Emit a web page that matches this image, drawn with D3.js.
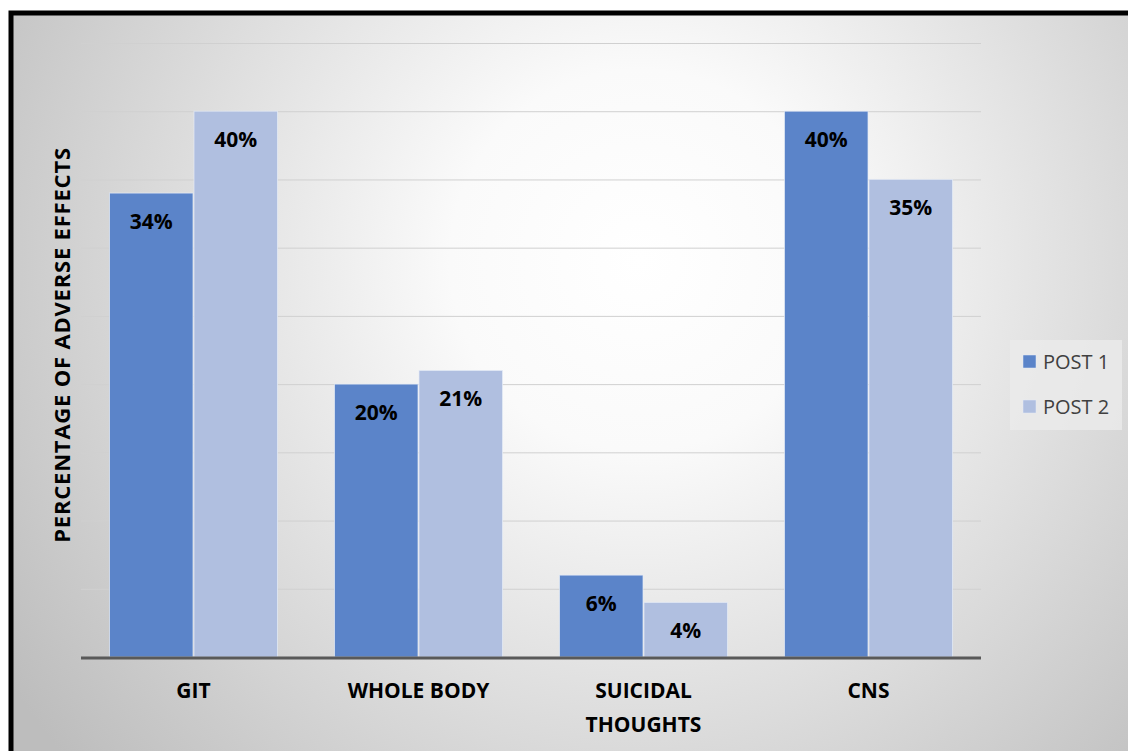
<!DOCTYPE html>
<meta charset="utf-8">
<title>Adverse effects</title>
<script src="https://d3js.org/d3.v7.min.js"></script>
<style>
    body { margin: 0; background: #fff; }
    text { font-family: 'Open Sans', sans-serif; }
    text.value { font-size: 21px; font-weight: bold; fill: #000; }
    text.cat { font-size: 21px; font-weight: bold; fill: #000; }
    text.ytitle { font-size: 22px; font-weight: bold; fill: #000; letter-spacing: 0.8px; }
    text.legend { font-size: 20px; fill: #404040; }
</style>
<div id="chart"></div>
<script>
    // data
    var categories = ["GIT", "WHOLE BODY", "SUICIDAL THOUGHTS", "CNS"];
    var catLines = [["GIT"], ["WHOLE BODY"], ["SUICIDAL", "THOUGHTS"], ["CNS"]];
    var seriesNames = ["POST 1", "POST 2"];
    var post1 = [34, 20, 6, 40];
    var post2 = [40, 21, 4, 35];
    var colors = ["#5b84c9", "#b0bfe0"];

    var W = 1128, H = 751;
    var plot = {left: 81, right: 981, top: 43, bottom: 657};

    var svg = d3.select("#chart").append("svg")
        .attr("width", W).attr("height", H);

    var defs = svg.append("defs");
    var grad = defs.append("radialGradient")
        .attr("id", "bg")
        .attr("gradientUnits", "userSpaceOnUse")
        .attr("cx", 640).attr("cy", 260).attr("r", 760);
    grad.append("stop").attr("offset", "0%").attr("stop-color", "#ffffff");
    grad.append("stop").attr("offset", "25%").attr("stop-color", "#fafafa");
    grad.append("stop").attr("offset", "100%").attr("stop-color", "#bdbdbd");

    // frame + background
    svg.append("rect")
        .attr("x", 11).attr("y", 13)
        .attr("width", W + 20).attr("height", H + 20)
        .attr("fill", "url(#bg)")
        .attr("stroke", "#000").attr("stroke-width", 5);

    var y = d3.scaleLinear().domain([0, 45]).range([plot.bottom, plot.top]);
    var x0 = d3.scaleBand().domain(categories).range([plot.left, plot.right]).paddingInner(0).paddingOuter(0);
    var x1 = d3.scaleBand().domain(seriesNames).range([0, 169]).padding(0);
    var groupOffset = (x0.bandwidth() - 169) / 2;

    // gridlines
    svg.append("g")
        .selectAll("line")
        .data(d3.range(5, 50, 5))
        .enter().append("line")
        .attr("x1", plot.left).attr("x2", plot.right)
        .attr("y1", function(d) { return y(d) + 0.5; })
        .attr("y2", function(d) { return y(d) + 0.5; })
        .attr("stroke", "#d0d0d0").attr("stroke-width", 1);

    var rows = categories.map(function(c, i) {
        return [{cat: c, s: seriesNames[0], v: post1[i], c: colors[0]},
                {cat: c, s: seriesNames[1], v: post2[i], c: colors[1]}];
    });
    var flat = [].concat.apply([], rows);

    svg.append("g").selectAll("rect")
        .data(flat)
        .enter().append("rect")
        .attr("x", function(d) { return x0(d.cat) + groupOffset + x1(d.s) + 0.5; })
        .attr("y", function(d) { return y(d.v); })
        .attr("width", x1.bandwidth() - 1)
        .attr("height", function(d) { return y(0) - y(d.v); })
        .attr("fill", function(d) { return d.c; })
        .attr("stroke", "#e6ecf6").attr("stroke-width", 1).attr("stroke-opacity", 0.7);

    svg.append("g").selectAll("text")
        .data(flat)
        .enter().append("text")
        .attr("class", "value")
        .attr("x", function(d) { return x0(d.cat) + groupOffset + x1(d.s) + x1.bandwidth() / 2; })
        .attr("y", function(d) { return y(d.v) + 36; })
        .attr("text-anchor", "middle")
        .text(function(d) { return d.v + "%"; });

    // baseline axis
    svg.append("line")
        .attr("x1", plot.left).attr("x2", plot.right)
        .attr("y1", y(0) + 1).attr("y2", y(0) + 1)
        .attr("stroke", "#595959").attr("stroke-width", 3);

    // category labels
    var cats = svg.append("g").selectAll("text")
        .data(categories)
        .enter().append("text")
        .attr("class", "cat")
        .attr("text-anchor", "middle")
        .attr("x", function(d) { return x0(d) + x0.bandwidth() / 2; })
        .attr("y", 698);
    cats.selectAll("tspan")
        .data(function(d, i) { return catLines[i]; })
        .enter().append("tspan")
        .attr("x", function() { return d3.select(this.parentNode).attr("x"); })
        .attr("dy", function(d, i) { return i === 0 ? 0 : 34; })
        .text(function(d) { return d; });

    // y title
    svg.append("text")
        .attr("class", "ytitle")
        .attr("transform", "translate(70,345) rotate(-90)")
        .attr("text-anchor", "middle")
        .text("PERCENTAGE OF ADVERSE EFFECTS");

    // legend
    var lg = svg.append("g");
    lg.append("rect")
        .attr("x", 1010).attr("y", 340).attr("width", 112).attr("height", 90)
        .attr("fill", "#ebebeb").attr("opacity", 0.8);
    var items = lg.selectAll("g.item")
        .data(seriesNames)
        .enter().append("g")
        .attr("transform", function(d, i) { return "translate(1023," + (355 + i * 45) + ")"; });
    items.append("rect")
        .attr("width", 13).attr("height", 13)
        .attr("fill", function(d, i) { return colors[i]; })
        .attr("stroke", "#e6ecf6").attr("stroke-width", 0.5);
    items.append("text")
        .attr("class", "legend")
        .attr("x", 20).attr("y", 14)
        .text(function(d) { return d; });
</script>
